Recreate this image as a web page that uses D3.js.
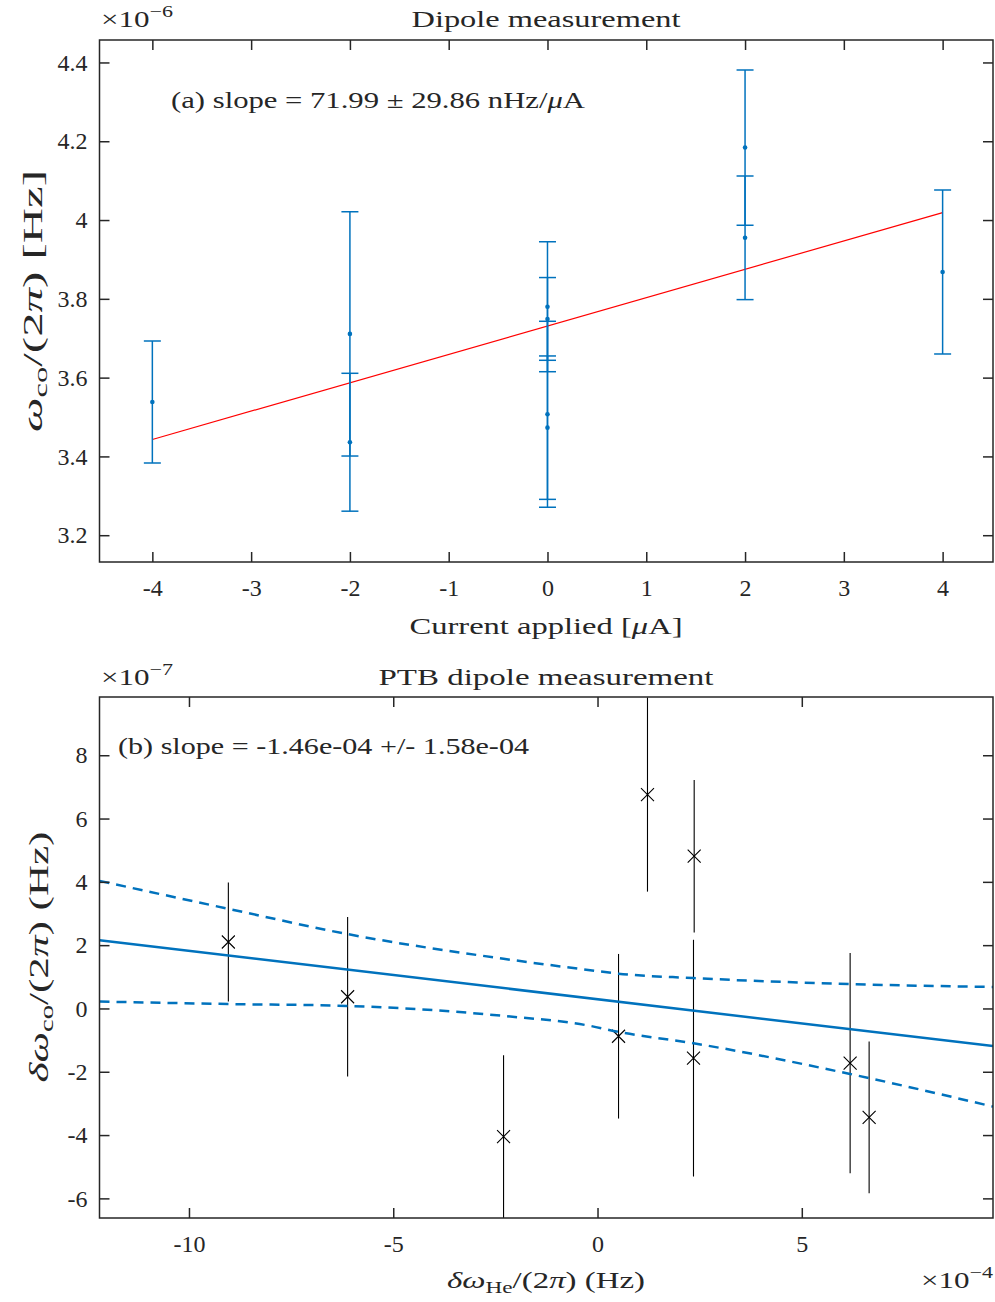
<!DOCTYPE html>
<html><head><meta charset="utf-8">
<script src="https://cdn.jsdelivr.net/npm/d3@7"></script>
<style>
body{margin:0;background:#fff}
text{font-family:'Liberation Serif','Times New Roman',serif;fill:#262626}
</style>
</head><body>
<svg id="c" width="995" height="1302"></svg>
<script>
// ---------- Panel (a) data ----------
const currentA = [-4, -2, -2, 0, 0, 0, 0, 2, 2, 4];            // µA
const omegaA   = [3.538, 3.711, 3.436, 3.780, 3.749, 3.507, 3.473, 4.184, 3.955, 3.868]; // ×1e-6 Hz
const errA     = [0.155, 0.310, 0.175, 0.165, 0.105, 0.236, 0.182, 0.197, 0.157, 0.208];
const fitAX    = [-4, 4];
const fitAY    = [3.443, 4.019];
const xTicksA  = [-4, -3, -2, -1, 0, 1, 2, 3, 4];
const yTicksA  = [3.2, 3.4, 3.6, 3.8, 4.0, 4.2, 4.4];

// ---------- Panel (b) data ----------
const heX   = [-9.036, -6.117, -2.30, 0.514, 1.223, 2.366, 2.349, 6.183, 6.648]; // ×1e-4 Hz
const coY   = [2.10, 0.37, -4.05, -0.878, 6.759, 4.81, -1.57, -1.73, -3.44];     // ×1e-7 Hz
const coErr = [1.88, 2.52, 2.575, 2.60, 3.068, 2.41, 3.74, 3.48, 2.40];
const fitBX = [-12.19, 9.68];
const fitBY = [2.157, -1.19];
const bandUpX = [-12.19, -9.04, -6.12, -2.30, -0.18, 0.51, 2.35, 6.18, 9.68];
const bandUpY = [4.03, 3.15, 2.35, 1.57, 1.21, 1.10, 0.96, 0.77, 0.68];
const bandLoX = [-12.19, -9.04, -6.12, -2.30, -0.18, 0.51, 2.35, 6.18, 9.68];
const bandLoY = [0.217, 0.14, 0.08, -0.235, -0.55, -0.74, -1.10, -2.07, -3.10];
const xTicksB = [-10, -5, 0, 5];
const yTicksB = [-6, -4, -2, 0, 2, 4, 6, 8];

const svg = d3.select('#c');
const AX = '#262626', BLUE = '#0072BD';
const FS = 24;

function frame(x, y, xt, yt, fmtX, fmtY) {
  const [l, r] = x.range(), [b, t] = y.range();
  const g = svg.append('g');
  const ax = g.append('g').attr('transform', `translate(0,${b})`)
    .call(d3.axisBottom(x).tickValues(xt).tickSize(-10).tickPadding(16.5).tickFormat(fmtX));
  const at = g.append('g').attr('transform', `translate(0,${t})`)
    .call(d3.axisTop(x).tickValues(xt).tickSize(-10).tickFormat(''));
  const al = g.append('g').attr('transform', `translate(${l},0)`)
    .call(d3.axisLeft(y).tickValues(yt).tickSize(-10).tickPadding(12).tickFormat(fmtY));
  const ar = g.append('g').attr('transform', `translate(${r},0)`)
    .call(d3.axisRight(y).tickValues(yt).tickSize(-10).tickFormat(''));
  [ax, at, al, ar].forEach(a => {
    a.select('.domain').remove();
    a.selectAll('line').attr('stroke', AX).attr('stroke-width', 1.5);
    a.selectAll('text').attr('font-size', FS).attr('fill', AX)
      .style('font-family', "'Liberation Serif',serif");
  });
  g.append('rect').attr('x', l).attr('y', t).attr('width', r - l).attr('height', b - t)
    .attr('fill', 'none').attr('stroke', AX).attr('stroke-width', 1.5);
}

function expLabel(x, y, exp, anchor) {
  const t = svg.append('text').attr('x', x).attr('y', y).attr('font-size', FS)
    .attr('text-anchor', anchor || 'start')
    .attr('textLength', 72).attr('lengthAdjust', 'spacingAndGlyphs');
  t.append('tspan').text('×10');
  t.append('tspan').attr('font-size', 17).attr('dy', -10).text('−' + exp);
}

// ================= Panel (a) =================
const xA = d3.scaleLinear().domain([-4.535, 4.51]).range([99.5, 993]);
const yA = d3.scaleLinear().domain([3.132, 4.457]).range([562, 40]);

svg.append('clipPath').attr('id', 'clipA').append('rect')
  .attr('x', 99.5).attr('y', 40).attr('width', 893.5).attr('height', 522);

const gA = svg.append('g').attr('clip-path', 'url(#clipA)');
// fit line
gA.append('path').datum(fitAX.map((v, i) => [v, fitAY[i]]))
  .attr('d', d3.line().x(d => xA(d[0])).y(d => yA(d[1])))
  .attr('fill', 'none').attr('stroke', '#FF0000').attr('stroke-width', 1.2);
// error bars
const ptsA = currentA.map((c, i) => ({x: c, y: omegaA[i], e: errA[i]}));
const eb = gA.selectAll('g.eb').data(ptsA).join('g');
eb.append('line').attr('x1', d => xA(d.x)).attr('x2', d => xA(d.x))
  .attr('y1', d => yA(d.y - d.e)).attr('y2', d => yA(d.y + d.e))
  .attr('stroke', BLUE).attr('stroke-width', 1.5);
[-1, 1].forEach(s => {
  eb.append('line').attr('x1', d => xA(d.x) - 8.5).attr('x2', d => xA(d.x) + 8.5)
    .attr('y1', d => yA(d.y + s * d.e)).attr('y2', d => yA(d.y + s * d.e))
    .attr('stroke', BLUE).attr('stroke-width', 1.5);
});
eb.append('circle').attr('cx', d => xA(d.x)).attr('cy', d => yA(d.y)).attr('r', 2.3)
  .attr('fill', BLUE);

frame(xA, yA, xTicksA, yTicksA, d => String(d), d => String(+d.toFixed(1)));

svg.append('text').attr('x', 546).attr('y', 27).attr('font-size', FS)
  .attr('text-anchor', 'middle').attr('textLength', 269).attr('lengthAdjust', 'spacingAndGlyphs')
  .text('Dipole measurement');
expLabel(101, 27, '6');

// x label
{
  const t = svg.append('text').attr('x', 546).attr('y', 634).attr('font-size', FS)
    .attr('text-anchor', 'middle').attr('textLength', 273).attr('lengthAdjust', 'spacingAndGlyphs');
  t.append('tspan').text('Current applied [');
  t.append('tspan').attr('font-style', 'italic').text('μ');
  t.append('tspan').text('A]');
}
// y label
{
  const t = svg.append('text').attr('transform', 'translate(42,301) rotate(-90)')
    .attr('font-size', 27).attr('text-anchor', 'middle')
    .attr('textLength', 262).attr('lengthAdjust', 'spacingAndGlyphs');
  t.append('tspan').attr('font-style', 'italic').text('ω');
  t.append('tspan').attr('font-size', 18).attr('dy', 5).text('co');
  t.append('tspan').attr('dy', -5).text('/(2');
  t.append('tspan').attr('font-style', 'italic').text('π');
  t.append('tspan').text(') [Hz]');
}
// annotation
{
  const t = svg.append('text').attr('x', 171).attr('y', 108).attr('font-size', FS)
    .attr('textLength', 414).attr('lengthAdjust', 'spacingAndGlyphs');
  t.append('tspan').text('(a) slope = 71.99 ± 29.86 nHz/');
  t.append('tspan').attr('font-style', 'italic').text('μ');
  t.append('tspan').text('A');
}

// ================= Panel (b) =================
const xB = d3.scaleLinear().domain([-12.19, 9.68]).range([99.5, 993]);
const yB = d3.scaleLinear().domain([-6.62, 9.84]).range([1218, 697]);

svg.append('clipPath').attr('id', 'clipB').append('rect')
  .attr('x', 99.5).attr('y', 697).attr('width', 893.5).attr('height', 521);
const gB = svg.append('g').attr('clip-path', 'url(#clipB)');

const lineB = d3.line().x(d => xB(d[0])).y(d => yB(d[1]));
const lineBc = d3.line().x(d => xB(d[0])).y(d => yB(d[1])).curve(d3.curveMonotoneX);

// error bars (no caps)
const ptsB = heX.map((x, i) => ({x, y: coY[i], e: coErr[i]}));
gB.selectAll('line.ebB').data(ptsB).join('line')
  .attr('x1', d => xB(d.x)).attr('x2', d => xB(d.x))
  .attr('y1', d => yB(d.y - d.e)).attr('y2', d => yB(d.y + d.e))
  .attr('stroke', '#000').attr('stroke-width', 1.1);
// markers
const mk = 6.5;
gB.selectAll('path.mk').data(ptsB).join('path')
  .attr('d', d => {
    const cx = xB(d.x), cy = yB(d.y);
    return `M${cx - mk},${cy - mk}L${cx + mk},${cy + mk}M${cx - mk},${cy + mk}L${cx + mk},${cy - mk}`;
  })
  .attr('stroke', '#000').attr('stroke-width', 1.1).attr('fill', 'none');

// fit and confidence band
gB.append('path').datum(fitBX.map((v, i) => [v, fitBY[i]])).attr('d', lineB)
  .attr('fill', 'none').attr('stroke', BLUE).attr('stroke-width', 2.5);
gB.append('path').datum(bandUpX.map((v, i) => [v, bandUpY[i]])).attr('d', lineBc)
  .attr('fill', 'none').attr('stroke', BLUE).attr('stroke-width', 2.5).attr('stroke-dasharray', '10,7');
gB.append('path').datum(bandLoX.map((v, i) => [v, bandLoY[i]])).attr('d', lineBc)
  .attr('fill', 'none').attr('stroke', BLUE).attr('stroke-width', 2.5).attr('stroke-dasharray', '10,7');

frame(xB, yB, xTicksB, yTicksB, d => String(d), d => String(d));

svg.append('text').attr('x', 546).attr('y', 685).attr('font-size', FS)
  .attr('text-anchor', 'middle').attr('textLength', 335).attr('lengthAdjust', 'spacingAndGlyphs')
  .text('PTB dipole measurement');
expLabel(101, 685, '7');
expLabel(993, 1288, '4', 'end');

{
  const t = svg.append('text').attr('x', 546).attr('y', 1288).attr('font-size', FS)
    .attr('text-anchor', 'middle').attr('textLength', 198).attr('lengthAdjust', 'spacingAndGlyphs');
  t.append('tspan').attr('font-style', 'italic').text('δω');
  t.append('tspan').attr('font-size', 17).attr('dy', 5).text('He');
  t.append('tspan').attr('dy', -5).text('/(2');
  t.append('tspan').attr('font-style', 'italic').text('π');
  t.append('tspan').text(') (Hz)');
}
{
  const t = svg.append('text').attr('transform', 'translate(48,957) rotate(-90)')
    .attr('font-size', 27).attr('text-anchor', 'middle')
    .attr('textLength', 251).attr('lengthAdjust', 'spacingAndGlyphs');
  t.append('tspan').attr('font-style', 'italic').text('δω');
  t.append('tspan').attr('font-size', 18).attr('dy', 5).text('co');
  t.append('tspan').attr('dy', -5).text('/(2');
  t.append('tspan').attr('font-style', 'italic').text('π');
  t.append('tspan').text(') (Hz)');
}
svg.append('text').attr('x', 118).attr('y', 754).attr('font-size', FS)
  .attr('textLength', 411).attr('lengthAdjust', 'spacingAndGlyphs')
  .text('(b) slope = -1.46e-04 +/- 1.58e-04');
</script>
</body></html>
